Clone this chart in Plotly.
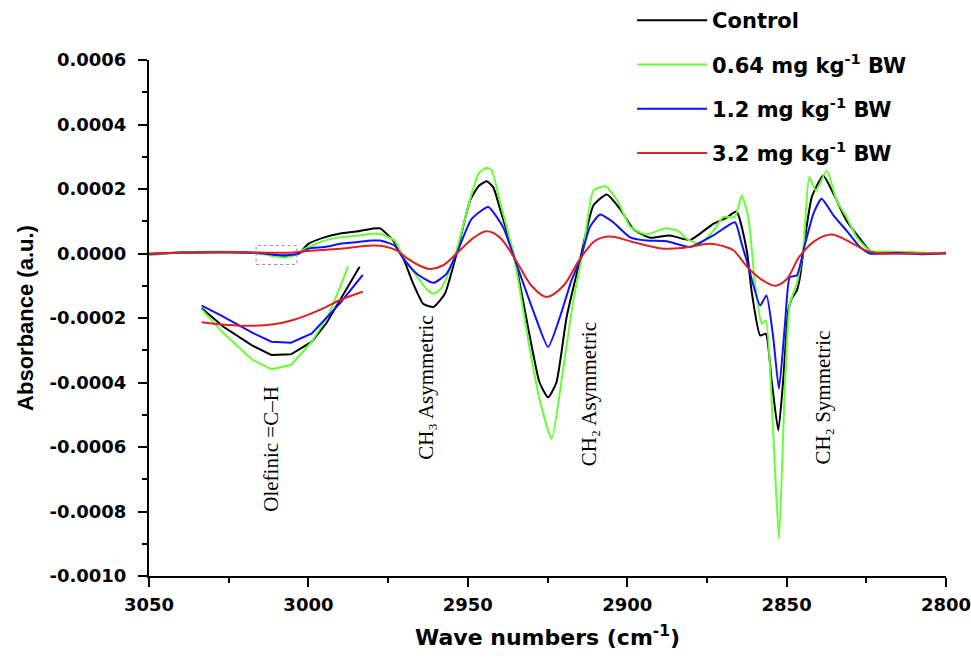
import plotly.graph_objects as go

# ---------------- data ----------------
series_names = ["Control", "0.64 mg kg<sup>-1</sup> BW", "1.2 mg kg<sup>-1</sup> BW", "3.2 mg kg<sup>-1</sup> BW"]
series_colors = ["#000000", "#66ff33", "#1010ff", "#dd2222"]

wn_control = [3050, 3040, 3030, 3020, 3014, 3010, 3006, 3003, 3000, 2995, 2990, 2985, 2980, 2977.5, 2973.4,
              2970.2, 2967.1, 2964, 2960.8, 2957.2, 2953.5, 2949.3, 2946.5, 2944.1, 2942, 2939.9, 2935.2, 2930.5,
              2927.5, 2924.8, 2922.2, 2919, 2914.8, 2910.6, 2906.4, 2902.3, 2898, 2892.8, 2886.6, 2880.3, 2873,
              2869, 2865.7, 2862.5, 2861, 2858.3, 2856.5, 2854.7, 2852.6, 2851, 2849.5, 2848.4, 2846.8, 2845.8,
              2844.2, 2842.1, 2838.5, 2835.3, 2831.2, 2827, 2823.3, 2815, 2810, 2805, 2800]
abs_control = [-0.000002, 0.000003, 0.000004, 0.000003, 0.000000, -0.000006, -0.000006, 0.000000, 0.000030,
               0.000050, 0.000062, 0.000068, 0.000077, 0.000078, 0.000040, -0.000016, -0.000094, -0.000156,
               -0.000166, -0.000125, 0.000000, 0.000164, 0.000210, 0.000224, 0.000205, 0.000139, -0.000020,
               -0.000260, -0.000400, -0.000446, -0.000400, -0.000197, -0.000020, 0.000149, 0.000183, 0.000139,
               0.000075, 0.000049, 0.000056, 0.000042, 0.000092, 0.000110, 0.000130, 0.000010, -0.000115,
               -0.000254, -0.000249, -0.000394, -0.000549, -0.000384, -0.000177, -0.000140, -0.000115, -0.000073,
               0.000050, 0.000175, 0.000242, 0.000185, 0.000102, 0.000046, 0.000004, 0.000003, 0.000002, 0.000000,
               0.000002]

wn_low = [3050, 3040, 3030, 3020, 3014, 3010, 3007, 3004, 3001, 2995, 2990, 2985, 2980, 2977.5, 2973, 2970.2,
          2966, 2963, 2960.8, 2958.5, 2956, 2953.5, 2948.8, 2946.5, 2944.1, 2942.5, 2940, 2935.7, 2930.5, 2927.4,
          2923.7, 2920, 2916.9, 2913.8, 2910.6, 2906.7, 2902.8, 2899, 2894, 2888, 2884, 2881.4, 2877.2, 2873,
          2869.9, 2866.2, 2864.1, 2862, 2859.9, 2857.8, 2856.5, 2854.2, 2852.4, 2850.5, 2849, 2846.8, 2844.8,
          2842.9, 2840.8, 2837.4, 2834.3, 2831.2, 2828, 2823.9, 2815, 2810, 2805, 2800]
abs_low = [-0.000005, 0.000003, 0.000006, 0.000004, -0.000002, -0.000010, -0.000012, -0.000003, 0.000015,
           0.000040, 0.000050, 0.000055, 0.000061, 0.000061, 0.000040, -0.000011, -0.000070, -0.000110,
           -0.000125, -0.000110, -0.000060, 0.000010, 0.000185, 0.000250, 0.000266, 0.000258, 0.000164,
           0.000000, -0.000300, -0.000456, -0.000575, -0.000352, -0.000146, 0.000010, 0.000195, 0.000208,
           0.000159, 0.000082, 0.000059, 0.000078, 0.000070, 0.000046, 0.000030, 0.000070, 0.000113, 0.000113,
           0.000180, 0.000113, -0.000094, -0.000218, -0.000208, -0.000559, -0.000885, -0.000404, -0.000156,
           -0.000094, 0.000010, 0.000237, 0.000195, 0.000257, 0.000164, 0.000113, 0.000050, 0.000009, 0.000005,
           0.000004, 0.000001, 0.000002]

wn_mid = [3050, 3040, 3030, 3020, 3014, 3010, 3006, 3003, 3000, 2995, 2990, 2985, 2980, 2977.5, 2973, 2970.2,
          2966, 2960.8, 2956.7, 2953.5, 2948.8, 2943.6, 2938.9, 2935.2, 2929.5, 2924.8, 2921.1, 2917.5, 2914.8,
          2911.7, 2908.5, 2904.4, 2899.1, 2893.9, 2887.6, 2880.3, 2873, 2866.2, 2864.1, 2862.5, 2858.3, 2856.3,
          2854.2, 2852.4, 2850.5, 2849, 2846.8, 2844.2, 2841.6, 2839, 2835.3, 2831.2, 2827, 2823.9, 2815, 2808,
          2800]
abs_mid = [-0.000002, 0.000003, 0.000004, 0.000003, 0.000000, -0.000005, -0.000005, 0.000000, 0.000015,
           0.000020, 0.000030, 0.000035, 0.000040, 0.000040, 0.000025, -0.000016, -0.000063, -0.000091,
           -0.000063, 0.000000, 0.000107, 0.000144, 0.000081, -0.000020, -0.000177, -0.000290, -0.000197,
           -0.000084, -0.000020, 0.000082, 0.000121, 0.000097, 0.000050, 0.000040, 0.000038, 0.000020, 0.000056,
           0.000097, 0.000030, -0.000022, -0.000161, -0.000130, -0.000260, -0.000420, -0.000218, -0.000073,
           -0.000068, 0.000030, 0.000123, 0.000170, 0.000118, 0.000071, 0.000020, 0.000000, 0.000002, -0.000002,
           0.000001]

wn_high = [3050, 3040, 3030, 3020, 3010, 3005, 3000, 2990, 2980, 2976, 2972, 2969, 2965, 2962, 2958, 2953.5,
           2948, 2944, 2940, 2935, 2930, 2925.3, 2920, 2915, 2910, 2905.4, 2898, 2888.7, 2882, 2874, 2869,
           2866.7, 2862, 2858, 2853.6, 2850, 2846, 2841, 2836, 2831, 2825, 2820, 2810, 2800]
abs_high = [0.000000, 0.000002, 0.000004, 0.000004, 0.000002, 0.000003, 0.000008, 0.000015, 0.000025, 0.000022,
            0.000008, -0.000015, -0.000038, -0.000048, -0.000038, 0.000000, 0.000050, 0.000069, 0.000050,
            -0.000020, -0.000100, -0.000135, -0.000100, -0.000020, 0.000040, 0.000053, 0.000035, 0.000015,
            0.000018, 0.000030, 0.000020, 0.000010, -0.000045, -0.000080, -0.000100, -0.000080, -0.000010,
            0.000040, 0.000059, 0.000040, 0.000009, 0.000000, 0.000000, 0.000000]

# enlarged view of the olefinic =C-H region (inset)
inset_wn_control = [3016.0, 3013.9, 3011.2, 3009.3, 3007.4, 3005.4, 3004.0, 3000.8]
inset_abs_control = [-1.93e-6, -5.0e-6, -8.05e-6, -9.71e-6, -9.60e-6, -7.50e-6, -4.43e-6, 5.0e-6]
inset_wn_low = [3016.0, 3013.9, 3011.1, 3009.3, 3007.4, 3005.4, 3003.7, 3001.9]
inset_abs_low = [-2.1e-6, -6.1e-6, -10.55e-6, -12.1e-6, -11.38e-6, -7.5e-6, -2.76e-6, 5.0e-6]
inset_wn_mid = [3016.0, 3014.2, 3011.0, 3009.3, 3007.4, 3005.4, 3002.7, 3000.5]
inset_abs_mid = [-1.5e-6, -3.05e-6, -6.1e-6, -7.5e-6, -7.66e-6, -6.1e-6, -1.1e-6, 3.62e-6]
inset_wn_high = [3016.0, 3012.3, 3009.1, 3007.2, 3004.3, 3002.7, 3000.5]
inset_abs_high = [-4.26e-6, -4.83e-6, -4.6e-6, -3.88e-6, -1.93e-6, -0.55e-6, 0.84e-6]

zoom_box_wn = [3016.4, 3003.6]
zoom_box_abs = [-0.000034, 0.000025]

band_labels = ["Olefinic =C–H", "CH₃ Asymmetric", "CH₂ Asymmetric", "CH₂ Symmetric"]
band_wn = [3012.0, 2963.1, 2912.0, 2838.6]
band_abs = [-0.000605, -0.000416, -0.000437, -0.000447]

x_ticks = [3050, 3000, 2950, 2900, 2850, 2800]
x_ticktext = ["3050", "3000", "2950", "2900", "2850", "2800"]
y_ticks = [-0.0010, -0.0008, -0.0006, -0.0004, -0.0002, 0.0000, 0.0002, 0.0004, 0.0006]
y_ticktext = ["-0.0010", "-0.0008", "-0.0006", "-0.0004", "-0.0002", "0.0000", "0.0002", "0.0004", "0.0006"]

# ---------------- figure ----------------
fig = go.Figure()
main = [(wn_control, abs_control), (wn_low, abs_low), (wn_mid, abs_mid), (wn_high, abs_high)]
inset = [(inset_wn_control, inset_abs_control), (inset_wn_low, inset_abs_low),
         (inset_wn_mid, inset_abs_mid), (inset_wn_high, inset_abs_high)]

for i, (name, col) in enumerate(zip(series_names, series_colors)):
    xs, ys = main[i]
    fig.add_trace(go.Scatter(
        x=xs, y=ys, mode="lines", name=name, legendgroup=str(i),
        line=dict(color=col, width=2, shape="spline", smoothing=1.0 if i == 3 else 0.5),
        xaxis="x", yaxis="y"))
for i, col in enumerate(series_colors):
    xs, ys = inset[i]
    fig.add_trace(go.Scatter(
        x=xs, y=ys, mode="lines", showlegend=False,
        line=dict(color=col, width=2, shape="spline" if i == 3 else "linear"),
        xaxis="x2", yaxis="y2"))

fig.add_shape(type="rect", xref="x", yref="y",
              x0=zoom_box_wn[0], x1=zoom_box_wn[1], y0=zoom_box_abs[0], y1=zoom_box_abs[1],
              line=dict(color="#9a7fd6", width=1, dash="dot"))

for txt, wx, ay in zip(band_labels, band_wn, band_abs):
    fig.add_annotation(x=wx, y=ay, xref="x", yref="y", text=txt, showarrow=False, textangle=-90,
                       font=dict(family="Liberation Serif", size=21, color="black"))

tickfont = dict(family="DejaVu Sans", size=18, color="black", weight="bold")
fig.update_layout(
    width=971, height=661, autosize=False,
    paper_bgcolor="white", plot_bgcolor="white",
    margin=dict(l=149, r=25, t=60, b=85, autoexpand=False),
    showlegend=True,
    legend=dict(x=0.651, y=1.0, xref="container", yref="container", xanchor="left", yanchor="top",
                font=dict(family="DejaVu Sans", size=21, color="black", weight="bold"),
                bgcolor="rgba(0,0,0,0)", tracegroupgap=14, itemwidth=70),
    xaxis=dict(range=[3050, 2800], showgrid=False, zeroline=False, showline=True, linecolor="black", linewidth=2,
               ticks="outside", ticklen=9, tickwidth=2, tickcolor="black", automargin=False,
               ticklabeloverflow="allow",
               tickmode="array", tickvals=x_ticks, ticktext=x_ticktext, tickfont=tickfont, ticklabelstandoff=2,
               minor=dict(tickmode="linear", tick0=3025, dtick=50, ticks="outside", ticklen=5, tickwidth=2,
                          tickcolor="black"),
               title=dict(text="Wave numbers (cm<sup>-1</sup>)", standoff=16,
                          font=dict(family="DejaVu Sans", size=22, color="black", weight="bold")),
               domain=[0, 1], anchor="y"),
    yaxis=dict(range=[-0.0010, 0.0006], showgrid=False, zeroline=False, showline=True, linecolor="black",
               linewidth=2, ticks="outside", ticklen=9, tickwidth=2, tickcolor="black", automargin=False,
               ticklabeloverflow="allow",
               tickmode="array", tickvals=y_ticks, ticktext=y_ticktext, tickfont=tickfont, ticklabelstandoff=8,
               minor=dict(tickmode="linear", tick0=-0.0009, dtick=0.0002, ticks="outside", ticklen=5,
                          tickwidth=2, tickcolor="black"),
               title=dict(text="Absorbance (a.u.)", standoff=10,
                          font=dict(family="Liberation Sans", size=22, color="black", weight="bold")),
               domain=[0, 1], anchor="x"),
    xaxis2=dict(domain=[0.0514, 0.2773], range=[3017.125, 2999.8], visible=False, anchor="y2"),
    yaxis2=dict(domain=[0.3895, 0.6124], range=[-1.305e-5, 6.12e-6], visible=False, anchor="x2"),
)

fig.write_html("out.html", config={"displayModeBar": False},
               post_script="document.body.style.margin='0px';document.body.style.overflow='hidden';")
